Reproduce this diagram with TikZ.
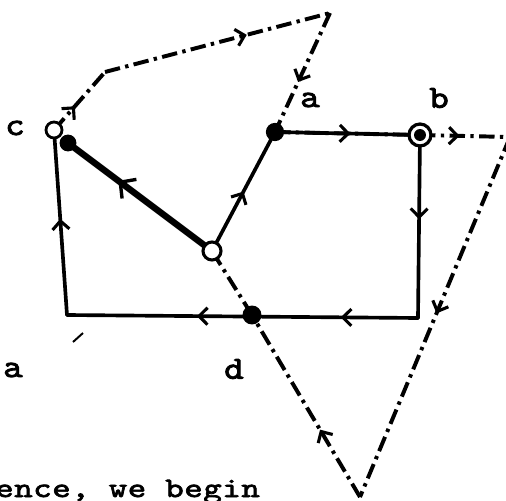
\documentclass[tikz,border=0pt]{standalone}
\usepackage{fontspec}
\usetikzlibrary{arrows.meta,decorations.markings}
\newfontfamily\lblfont[Extension=.otf,FakeStretch=1.15,FakeBold=2.5]{lmmono10-regular}
\newfontfamily\twfont[Extension=.otf,FakeStretch=1.25,FakeBold=2.5,LetterSpace=2]{lmmono10-regular}

\begin{document}
\begin{tikzpicture}[
    x=0.025cm, y=-0.025cm,
    every node/.style={font=\lblfont\fontsize{23}{23}\selectfont, inner sep=0pt},
    solidline/.style={line width=2.6pt, line cap=round},
    thickline/.style={line width=4.6pt, line cap=round},
    dashline/.style={line width=2.8pt, dash pattern=on 11pt off 3.8pt on 2.4pt off 3.8pt},
    midarrow/.style={postaction={decorate, decoration={markings,
        mark=at position #1 with {\arrow{Straight Barb[length=6pt, width=12pt, line width=2.2pt]}}}}},
    bigarrow/.style={postaction={decorate, decoration={markings,
        mark=at position #1 with {\arrow{Straight Barb[length=8pt, width=17pt, line width=2.4pt]}}}}},
    filldot/.style={circle, fill=black, minimum size=#1},
    ringdot/.style={circle, draw=black, fill=white, line width=2.2pt, minimum size=#1},
]
\useasboundingbox (0,0) rectangle (506,500);

% --- Vertices ---
\coordinate (cc) at (54,130);
\coordinate (cd) at (68,143);
\coordinate (bl) at (67,315);
\coordinate (dd) at (252,315);
\coordinate (br) at (418,318);
\coordinate (bb) at (420,135);
\coordinate (aa) at (275,132);
\coordinate (hh) at (212,251);
\coordinate (p1) at (105,72);
\coordinate (p2) at (330,13);
\coordinate (p3) at (510,137);
\coordinate (p4) at (360,497);

% --- Solid cycle ---
\draw[solidline, midarrow=0.52] (bl) -- (cc);
\draw[solidline, midarrow=0.22, midarrow=0.63] (br) -- (bl);
\draw[solidline, midarrow=0.46] (bb) -- (br);
\draw[solidline, midarrow=0.52] (aa) -- (bb);
\draw[solidline, midarrow=0.5] (hh) -- (aa);
\draw[thickline, bigarrow=0.65] (hh) -- (cd);

% --- Dash-dotted cycle ---
\draw[dashline, midarrow=0.41] (cc) -- (p1);
\draw[dashline, midarrow=0.63] (p1) -- (p2);
\draw[dashline, midarrow=0.58] (p2) -- (aa);
\draw[dashline, yshift=1.2pt] (aa) -- (bb);
\draw[dashline, midarrow=0.44] (bb) -- (p3);
\draw[dashline, midarrow=0.49] (p3) -- (p4);
\draw[dashline, midarrow=0.37] (p4) -- (dd);
\draw[dashline] (dd) -- (hh);

% --- Stray tick ---
\draw[line width=1.4pt] (73,342) -- (83,333);

% --- Dots and rings ---
\node[ringdot=11.4pt, line width=2pt] (ccring) at (cc) {};
\node[filldot=12pt] (cddot) at (cd) {};
\node[filldot=13pt] (aadot) at (aa) {};
\node[filldot=13.5pt] (dddot) at (dd) {};
\node[ringdot=15.6pt, line width=2.3pt] (bbring) at (bb) {};
\node[filldot=8.5pt] (bbdot) at (bb) {};
\node[ringdot=12.8pt] (hhring) at (hh) {};

% --- Labels ---
\node (lblc) at (15,128) {c};
\node (lbla) at (310,100) {a};
\node (lblb) at (439,98) {b};
\node (lbla2) at (13,370) {a};
\node (lbld) at (234,369) {d};
\node[anchor=base west, font=\twfont\fontsize{20}{20}\selectfont] (txt) at (-5,497) {ence, we begin};

\end{tikzpicture}
\end{document}
